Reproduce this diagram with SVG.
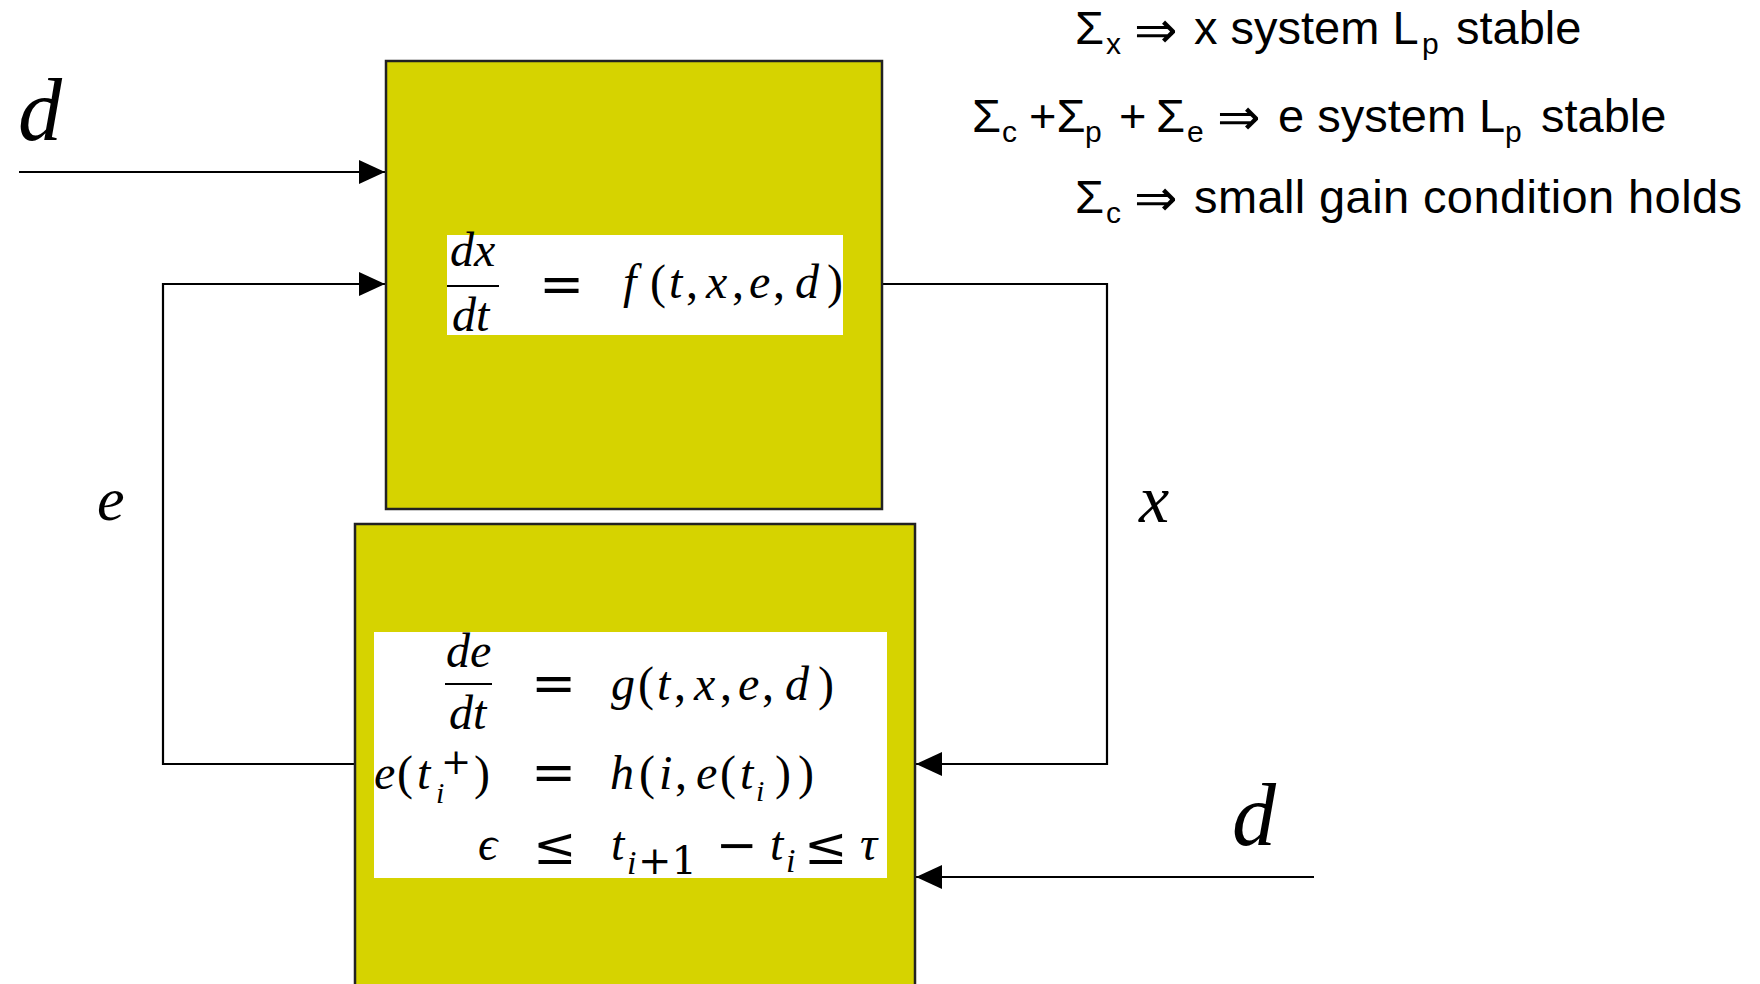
<svg xmlns="http://www.w3.org/2000/svg" width="1760" height="984" viewBox="0 0 1760 984">
<style>
.box{fill:#D6D300;stroke:#222;stroke-width:2.5}
.wb{fill:#fff;stroke:none}
.conn{fill:none;stroke:#000;stroke-width:2.2}
.m{font-family:"Liberation Serif","DejaVu Serif",serif;font-style:italic;fill:#000}
.u{font-family:"Liberation Serif","DejaVu Serif",serif;font-style:normal;fill:#000}
.r{font-family:"DejaVu Serif","Liberation Serif",serif;font-style:normal;fill:#000}
.t{font-family:"Liberation Sans",Arial,sans-serif;fill:#000;font-size:47px}
.s{font-family:"Liberation Sans",Arial,sans-serif;fill:#000;font-size:30px}
.ar{font-family:"DejaVu Sans",sans-serif;fill:#000;font-size:52px}
</style>
<defs>
<marker id="ah" markerWidth="26" markerHeight="24" refX="26" refY="12" orient="auto" markerUnits="userSpaceOnUse">
<path d="M0,0 L26,12 L0,24 z" fill="#000"/>
</marker>
</defs>
<rect width="1760" height="984" fill="#fff"/>

<g id="connectors">
<path class="conn" d="M19,172 H385" marker-end="url(#ah)"/>
<path class="conn" d="M355,764 H163 V284 H385" marker-end="url(#ah)"/>
<path class="conn" d="M882,284 H1107 V764 H916" marker-end="url(#ah)"/>
<path class="conn" d="M1314,877 H916" marker-end="url(#ah)"/>
</g>

<g id="node-x">
<rect class="box" x="386" y="61" width="496" height="448"/>
<rect class="wb" x="447" y="235" width="396" height="100"/>
<text class="m" x="450" y="266" font-size="48">dx</text>
<line x1="447" y1="286" x2="499" y2="286" stroke="#000" stroke-width="2"/>
<text class="m" x="452" y="331" font-size="48">dt</text>
<text class="r" x="539" y="303" font-size="54">=</text>
<text class="m" x="623" y="298" font-size="48">f</text>
<text class="u" x="650" y="298" font-size="48">(</text>
<text class="m" x="669" y="298" font-size="48">t</text>
<text class="u" x="686" y="298" font-size="48">,</text>
<text class="m" x="706" y="298" font-size="48">x</text>
<text class="u" x="732" y="298" font-size="48">,</text>
<text class="m" x="749" y="298" font-size="48">e</text>
<text class="u" x="773" y="298" font-size="48">,</text>
<text class="m" x="795" y="298" font-size="48">d</text>
<text class="u" x="827" y="298" font-size="48">)</text>
</g>

<g id="node-e">
<rect class="box" x="355" y="524" width="560" height="480"/>
<rect class="wb" x="374" y="632" width="513" height="246"/>
<text class="m" x="446" y="667" font-size="48">de</text>
<line x1="445" y1="684" x2="492" y2="684" stroke="#000" stroke-width="2"/>
<text class="m" x="449" y="729" font-size="48">dt</text>
<text class="r" x="531" y="702" font-size="54">=</text>
<text class="m" x="611" y="700" font-size="48">g</text>
<text class="u" x="638" y="700" font-size="48">(</text>
<text class="m" x="657" y="700" font-size="48">t</text>
<text class="u" x="674" y="700" font-size="48">,</text>
<text class="m" x="694" y="700" font-size="48">x</text>
<text class="u" x="720" y="700" font-size="48">,</text>
<text class="m" x="738" y="700" font-size="48">e</text>
<text class="u" x="762" y="700" font-size="48">,</text>
<text class="m" x="785" y="700" font-size="48">d</text>
<text class="u" x="818" y="700" font-size="48">)</text>

<text class="m" x="374" y="789" font-size="48">e</text>
<text class="u" x="397" y="789" font-size="48">(</text>
<text class="m" x="417" y="789" font-size="48">t</text>
<text class="m" x="436" y="803" font-size="30">i</text>
<text class="r" x="441" y="774" font-size="36">+</text>
<text class="u" x="474" y="789" font-size="48">)</text>
<text class="r" x="531" y="791" font-size="54">=</text>
<text class="m" x="610" y="789" font-size="48">h</text>
<text class="u" x="639" y="789" font-size="48">(</text>
<text class="m" x="659" y="789" font-size="48">i</text>
<text class="u" x="675" y="789" font-size="48">,</text>
<text class="m" x="696" y="789" font-size="48">e</text>
<text class="u" x="720" y="789" font-size="48">(</text>
<text class="m" x="740" y="789" font-size="48">t</text>
<text class="m" x="756" y="801" font-size="30">i</text>
<text class="u" x="775" y="789" font-size="48">)</text>
<text class="u" x="798" y="789" font-size="48">)</text>

<text class="m" x="478" y="860" font-size="48">ϵ</text>
<text class="r" x="533" y="864" font-size="52">≤</text>
<text class="m" x="611" y="860" font-size="48">t</text>
<text class="m" x="627" y="874" font-size="34">i</text>
<text class="r" x="638" y="874" font-size="40">+1</text>
<text class="r" x="716" y="862" font-size="50">−</text>
<text class="m" x="770" y="860" font-size="48">t</text>
<text class="m" x="786" y="872" font-size="34">i</text>
<text class="r" x="804" y="864" font-size="52">≤</text>
<text class="m" x="860" y="860" font-size="48">τ</text>
</g>

<g id="label-d-top"><text class="m" x="18" y="140" font-size="88">d</text></g>
<g id="label-d-bottom"><text class="m" x="1232" y="845" font-size="88">d</text></g>
<g id="label-e"><text class="m" x="97" y="520" font-size="62">e</text></g>
<g id="label-x"><text class="m" x="1139" y="522" font-size="68">x</text></g>

<g id="notes">
<text class="t" x="1075" y="44">Σ</text>
<text class="s" x="1106" y="54">x</text>
<text class="ar" x="1134" y="48">⇒</text>
<text class="t" x="1194" y="44">x system L</text>
<text class="s" x="1422" y="54">p</text>
<text class="t" x="1456" y="44">stable</text>

<text class="t" x="972" y="132">Σ</text>
<text class="s" x="1002" y="142">c</text>
<text class="t" x="1029" y="132">+Σ</text>
<text class="s" x="1085" y="142">p</text>
<text class="t" x="1119" y="132">+</text>
<text class="t" x="1156" y="132">Σ</text>
<text class="s" x="1187" y="142">e</text>
<text class="ar" x="1217" y="135">⇒</text>
<text class="t" x="1278" y="132">e system L</text>
<text class="s" x="1505" y="142">p</text>
<text class="t" x="1541" y="132">stable</text>

<text class="t" x="1075" y="213">Σ</text>
<text class="s" x="1106" y="223">c</text>
<text class="ar" x="1134" y="216">⇒</text>
<text class="t" x="1194" y="213" textLength="548">small gain condition holds</text>
</g>
</svg>
